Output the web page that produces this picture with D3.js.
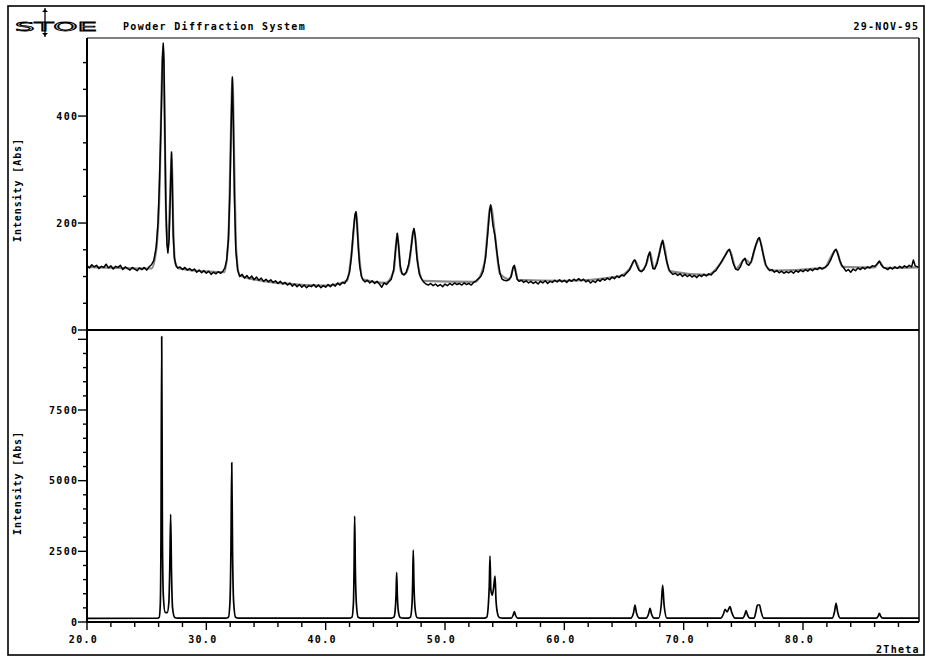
<!DOCTYPE html>
<html><head><meta charset="utf-8">
<script src="https://cdn.jsdelivr.net/npm/d3@7"></script>
<style>
body{margin:0;background:#fff}
text{font-family:"DejaVu Sans Mono",monospace;font-weight:bold;fill:#000}
</style>
</head><body>
<svg id="c" width="926" height="657"></svg>
<script>
// ---- Data ----
const headerTitle = "Powder Diffraction System";
const headerDate = "29-NOV-95";
const logoText = "STOE";
const yTitle = "Intensity [Abs]";
const xTitle = "2Theta";

const xTickLabels = [20, 30, 40, 50, 60, 70, 80];
const topYLabels = [0, 200, 400];
const bottomYLabels = [0, 2500, 5000, 7500];

// Measured pattern (top panel): [2Theta, intensity]
const measured = [
[20.0,120],[20.2,116],[20.4,122],[20.6,118],[20.8,121],[21.0,115],[21.2,119],[21.4,117],[21.6,123],[21.8,116],
[22.0,120],[22.2,114],[22.4,119],[22.6,117],[22.8,121],[23.0,113],[23.2,118],[23.4,115],[23.6,112],[23.8,117],
[24.0,114],[24.2,111],[24.4,116],[24.6,113],[24.8,117],[25.0,112],[25.2,118],[25.4,122],[25.6,130],[25.8,155],
[25.95,200],[26.05,262],[26.15,340],[26.24,420],[26.32,505],[26.39,536],[26.45,500],[26.52,380],[26.6,240],[26.7,160],
[26.78,144],[26.88,170],[26.98,250],[27.08,333],[27.14,280],[27.22,180],[27.32,135],[27.47,120],[27.6,116],[27.8,118],
[28.0,113],[28.2,117],[28.4,112],[28.6,115],[28.8,111],[29.0,114],[29.2,108],[29.4,112],[29.6,107],[29.8,111],
[30.0,106],[30.2,110],[30.4,104],[30.6,108],[30.8,105],[31.0,109],[31.2,106],[31.4,110],[31.55,116],[31.7,130],
[31.85,170],[31.98,260],[32.08,380],[32.18,473],[32.26,390],[32.35,250],[32.47,150],[32.62,112],[32.8,100],[33.0,104],
[33.2,97],[33.4,102],[33.6,96],[33.8,101],[34.0,94],[34.2,99],[34.4,93],[34.6,97],[34.8,91],[35.0,95],
[35.2,90],[35.4,94],[35.6,89],[35.8,92],[36.0,87],[36.2,91],[36.4,86],[36.6,89],[36.8,84],[37.0,88],
[37.2,82],[37.4,86],[37.6,81],[37.8,85],[38.0,80],[38.2,84],[38.4,79],[38.6,83],[38.8,81],[39.0,85],
[39.2,80],[39.4,84],[39.6,79],[39.8,83],[40.0,80],[40.2,85],[40.4,81],[40.6,86],[40.8,82],[41.0,88],
[41.2,84],[41.4,89],[41.6,87],[41.8,95],[42.0,108],[42.15,135],[42.3,180],[42.45,215],[42.54,221],[42.62,200],
[42.72,160],[42.85,120],[43.0,100],[43.15,93],[43.3,90],[43.5,93],[43.7,88],[43.9,92],[44.1,87],[44.3,91],
[44.5,86],[44.7,80],[44.9,88],[45.1,85],[45.3,90],[45.5,95],[45.7,113],[45.85,148],[46.0,181],[46.1,160],
[46.25,120],[46.4,105],[46.55,103],[46.75,108],[46.95,122],[47.15,152],[47.3,180],[47.4,190],[47.5,175],[47.65,135],
[47.85,105],[48.0,97],[48.2,90],[48.4,86],[48.6,84],[48.8,87],[49.0,83],[49.2,86],[49.4,82],[49.6,85],
[49.8,81],[50.0,86],[50.2,83],[50.4,87],[50.6,84],[50.8,88],[51.0,85],[51.2,87],[51.4,84],[51.6,88],
[51.8,85],[52.0,87],[52.2,84],[52.4,89],[52.6,92],[52.8,96],[53.0,100],[53.2,110],[53.4,135],[53.6,185],
[53.75,226],[53.83,234],[53.92,215],[54.02,195],[54.18,177],[54.32,150],[54.47,125],[54.62,105],[54.78,95],[54.95,93],
[55.15,92],[55.35,94],[55.55,100],[55.7,117],[55.81,121],[55.92,108],[56.05,95],[56.2,91],[56.4,93],[56.6,89],
[56.8,92],[57.0,88],[57.2,91],[57.4,87],[57.6,90],[57.8,86],[58.0,91],[58.2,88],[58.4,92],[58.6,87],
[58.8,91],[59.0,89],[59.2,93],[59.4,90],[59.6,94],[59.8,90],[60.0,93],[60.2,89],[60.4,94],[60.6,91],
[60.8,95],[61.0,92],[61.2,96],[61.4,92],[61.6,95],[61.8,90],[62.0,93],[62.2,88],[62.4,92],[62.6,89],
[62.8,94],[63.0,91],[63.2,96],[63.4,93],[63.6,97],[63.8,94],[64.0,99],[64.2,96],[64.4,101],[64.6,98],
[64.8,103],[65.0,101],[65.2,106],[65.45,112],[65.65,122],[65.82,130],[65.92,131],[66.05,122],[66.25,112],[66.45,109],
[66.65,113],[66.85,122],[67.02,138],[67.16,146],[67.28,130],[67.42,115],[67.58,114],[67.78,125],[67.98,145],[68.12,160],
[68.24,168],[68.38,150],[68.58,128],[68.78,113],[68.95,107],[69.1,104],[69.3,106],[69.5,102],[69.7,105],[69.9,100],
[70.1,104],[70.3,100],[70.5,103],[70.7,99],[70.9,102],[71.1,98],[71.3,103],[71.5,100],[71.7,104],[71.9,101],
[72.1,105],[72.3,103],[72.5,108],[72.7,111],[72.9,118],[73.1,125],[73.3,133],[73.5,140],[73.7,148],[73.83,151],
[73.98,140],[74.15,125],[74.35,114],[74.55,112],[74.75,118],[74.95,130],[75.14,134],[75.28,124],[75.46,121],[75.66,128],
[75.86,145],[76.06,160],[76.22,170],[76.34,173],[76.48,160],[76.68,140],[76.88,122],[77.05,115],[77.2,111],[77.4,113],
[77.6,108],[77.8,111],[78.0,107],[78.2,110],[78.4,106],[78.6,109],[78.8,107],[79.0,110],[79.2,106],[79.4,111],
[79.6,108],[79.8,112],[80.0,109],[80.2,113],[80.4,110],[80.6,114],[80.8,111],[81.0,115],[81.2,113],[81.4,117],
[81.6,114],[81.9,118],[82.1,122],[82.3,130],[82.48,140],[82.64,148],[82.77,151],[82.92,142],[83.08,130],[83.28,120],
[83.45,115],[83.6,110],[83.8,113],[84.0,108],[84.2,114],[84.4,111],[84.6,116],[84.8,113],[85.0,117],[85.2,114],
[85.4,118],[85.6,116],[85.8,120],[86.0,119],[86.2,123],[86.4,129],[86.55,122],[86.75,117],[86.95,115],[87.1,113],
[87.3,117],[87.5,114],[87.7,118],[87.9,115],[88.1,119],[88.3,116],[88.5,120],[88.7,117],[88.9,121],[89.1,118],
[89.25,131],[89.4,120],[89.72,117]
];

// Calculated pattern overlay in the top panel (grey)
const calcTop = [
[20,118],[25.4,115],[25.8,150],[26.1,280],[26.25,450],[26.39,530],[26.5,400],[26.62,220],[26.78,150],[26.95,240],
[27.1,330],[27.22,200],[27.4,125],[27.7,115],[31.5,108],[31.85,170],[32.05,360],[32.19,470],[32.35,300],[32.5,150],
[32.8,102],[36,88],[40,83],[41.8,92],[42.2,150],[42.54,220],[42.8,140],[43.1,95],[45,88],[45.7,110],
[46.0,180],[46.3,110],[46.6,104],[47.0,125],[47.4,188],[47.75,120],[48.2,92],[52.5,90],[53.3,125],[53.83,232],
[54.2,175],[54.6,105],[55.4,95],[55.81,120],[56.1,94],[60,92],[64.5,100],[65.5,115],[65.92,130],[66.4,110],
[66.9,125],[67.18,145],[67.5,115],[67.9,138],[68.24,166],[68.8,110],[72,103],[73.2,128],[73.83,150],[74.4,115],
[75.14,132],[75.6,125],[76.0,155],[76.34,171],[76.9,120],[77.5,111],[81.8,116],[82.3,135],[82.77,150],[83.3,118],
[86.0,117],[86.4,128],[86.8,116],[89.72,117]
];

// Calculated / reference pattern (bottom panel)
const calcBottom = [
[20,130],[25.9,133],[26.05,160],[26.14,600],[26.2,3000],[26.26,10100],[26.32,3000],[26.4,900],[26.55,340],[26.72,330],
[26.86,700],[26.94,2000],[27.01,3810],[27.08,1800],[27.17,500],[27.35,160],[27.6,135],
[31.6,135],[31.85,170],[31.98,700],[32.06,2500],[32.13,5635],[32.2,2400],[32.29,700],[32.45,170],[32.7,135],
[41.95,135],[42.2,170],[42.33,700],[42.38,1900],[42.43,3750],[42.49,1800],[42.58,600],[42.72,170],[42.95,135],
[45.5,135],[45.72,170],[45.84,500],[45.9,1000],[45.95,1760],[46.01,900],[46.1,350],[46.25,160],[46.5,135],
[46.9,135],[47.1,170],[47.23,600],[47.29,1400],[47.34,2547],[47.4,1300],[47.5,450],[47.65,160],[47.9,135],
[53.3,135],[53.5,170],[53.63,600],[53.71,1300],[53.77,2335],[53.84,1150],[53.95,950],[54.07,1200],[54.19,1627],[54.27,800],
[54.38,350],[54.55,160],[54.8,135],
[55.55,135],[55.7,230],[55.81,365],[55.92,230],[56.08,135],
[65.55,135],[65.8,330],[65.92,601],[66.04,330],[66.3,135],
[66.85,135],[67.06,290],[67.18,484],[67.3,290],[67.52,135],
[67.9,135],[68.12,600],[68.24,1309],[68.36,600],[68.6,135],
[73.1,135],[73.35,300],[73.47,449],[73.64,360],[73.88,541],[74.02,350],[74.3,135],
[74.95,135],[75.12,260],[75.23,400],[75.34,260],[75.55,135],
[75.9,135],[76.08,420],[76.18,601],[76.36,601],[76.47,400],[76.7,135],
[82.45,135],[82.65,380],[82.77,661],[82.89,380],[83.12,135],
[86.12,135],[86.3,210],[86.4,308],[86.5,210],[86.7,135],
[89.72,135]
];

// ---- Layout ----
const svg = d3.select("#c");
const L = 87, R = 919, T = 38, MID = 330, B = 622;

const x = d3.scaleLinear().domain([20, 89.72]).range([L, R]);
const yTop = d3.scaleLinear().domain([0, 546]).range([MID, T]);
const yBot = d3.scaleLinear().domain([0, 10330]).range([B, MID]);

// outer frame
svg.append("rect").attr("x", 8).attr("y", 6).attr("width", 916).attr("height", 649)
  .attr("fill", "none").attr("stroke", "#000").attr("stroke-width", 1.6);

// header
svg.append("text").attr("x", 123).attr("y", 30).attr("font-size", 10)
  .attr("letter-spacing", 1.3).text(headerTitle);
svg.append("text").attr("x", 919.3).attr("y", 30).attr("font-size", 10)
  .attr("letter-spacing", 1.3).attr("text-anchor", "end").text(headerDate);
// logo (outlined letters)
svg.append("text").attr("x", 15).attr("y", 31).attr("font-size", 13)
  .attr("textLength", 82).attr("lengthAdjust", "spacingAndGlyphs")
  .style("font-weight", "normal").style("font-family", "'DejaVu Sans', sans-serif")
  .style("fill", "#fff").attr("stroke", "#000").attr("stroke-width", 0.9).text(logoText);
svg.append("line").attr("x1", 45).attr("x2", 45).attr("y1", 8).attr("y2", 37)
  .attr("stroke", "#000").attr("stroke-width", 1.3);
svg.append("path").attr("d", "M42,12 L45,9 L48,12 Z M42,33 L45,36 L48,33 Z").attr("fill", "#000");

// plot frame
svg.append("line").attr("x1", L).attr("x2", R).attr("y1", T).attr("y2", T).attr("stroke", "#000").attr("stroke-width", 1.2);
svg.append("line").attr("x1", R).attr("x2", R).attr("y1", T).attr("y2", B).attr("stroke", "#000").attr("stroke-width", 1.5);

// data lines
const lineTop = d3.line().x(d => x(d[0])).y(d => yTop(d[1]));
const lineTopCalc = d3.line().x(d => x(d[0])).y(d => yTop(d[1])).curve(d3.curveMonotoneX);
const lineBot = d3.line().x(d => x(d[0])).y(d => yBot(d[1])).curve(d3.curveMonotoneX);

svg.append("path").datum(calcTop).attr("d", lineTopCalc)
  .attr("fill", "none").attr("stroke", "#8a8a8a").attr("stroke-width", 2.2);
svg.append("path").datum(measured).attr("d", lineTop)
  .attr("fill", "none").attr("stroke", "#000").attr("stroke-width", 1.5).attr("stroke-linejoin", "round");
svg.append("path").datum(calcBottom).attr("d", lineBot)
  .attr("fill", "none").attr("stroke", "#000").attr("stroke-width", 1.7).attr("stroke-linejoin", "round");

// axes lines
svg.append("line").attr("x1", L).attr("x2", L).attr("y1", T).attr("y2", B + 1).attr("stroke", "#000").attr("stroke-width", 2);
svg.append("line").attr("x1", L).attr("x2", R).attr("y1", MID).attr("y2", MID).attr("stroke", "#000").attr("stroke-width", 2);
svg.append("line").attr("x1", L).attr("x2", R).attr("y1", B).attr("y2", B).attr("stroke", "#000").attr("stroke-width", 2);

// y ticks - top panel
d3.range(0, 546, 50).forEach(v => {
  const major = v % 200 === 0;
  svg.append("line").attr("x1", major ? L - 9 : L - 4).attr("x2", L)
    .attr("y1", yTop(v)).attr("y2", yTop(v)).attr("stroke", "#000").attr("stroke-width", 1.4);
});
topYLabels.forEach(v => {
  svg.append("text").attr("x", 78.3).attr("y", yTop(v)).attr("dy", "0.36em")
    .attr("font-size", 10).attr("letter-spacing", 1.3).attr("text-anchor", "end").text(v);
});
// y ticks - bottom panel
d3.range(0, 10330, 500).forEach(v => {
  const major = v % 2500 === 0;
  svg.append("line").attr("x1", major ? L - 9 : L - 4).attr("x2", L)
    .attr("y1", yBot(v)).attr("y2", yBot(v)).attr("stroke", "#000").attr("stroke-width", 1.4);
});
bottomYLabels.forEach(v => {
  svg.append("text").attr("x", 78.3).attr("y", yBot(v)).attr("dy", "0.36em")
    .attr("font-size", 10).attr("letter-spacing", 1.3).attr("text-anchor", "end").text(v);
});

// x ticks
d3.range(20, 89.72, 2).forEach(v => {
  const major = v % 10 === 0;
  svg.append("line").attr("x1", x(v)).attr("x2", x(v))
    .attr("y1", B).attr("y2", B + (major ? 8 : 5)).attr("stroke", "#000").attr("stroke-width", 1.4);
});
xTickLabels.forEach(v => {
  svg.append("text").attr("x", x(v) - 3.5).attr("y", 642.5)
    .attr("font-size", 10).attr("letter-spacing", 1.3).attr("text-anchor", "middle").text(v.toFixed(1));
});

// axis titles
[[21, 190], [21, 483]].forEach(p => {
  svg.append("text").attr("transform", `translate(${p[0]},${p[1]}) rotate(-90)`)
    .attr("font-size", 10).attr("letter-spacing", 0.9).attr("text-anchor", "middle").text(yTitle);
});
svg.append("text").attr("x", 876).attr("y", 652.5).attr("font-size", 10)
  .attr("letter-spacing", 1.3).text(xTitle);
</script>
</body></html>
